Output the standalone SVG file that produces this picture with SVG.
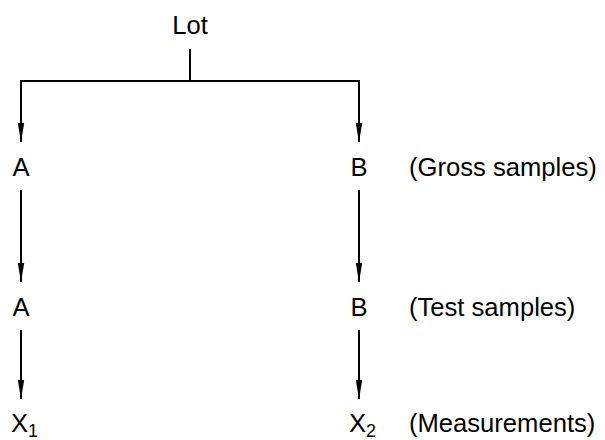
<svg xmlns="http://www.w3.org/2000/svg" width="605" height="440" viewBox="0 0 605 440">
<style>
text{font-family:"Liberation Sans",Arial,sans-serif;font-size:25.6px;fill:#000}
.c{text-anchor:middle}
.sub{font-size:18px}
.ln{stroke:#000;stroke-width:2;fill:none}
</style>
<defs>
<marker id="ah" markerUnits="userSpaceOnUse" markerWidth="20" markerHeight="8" refX="19" refY="3.5" orient="auto" viewBox="0 0 20 7">
<path d="M0,0.3 L19,3.5 L0,6.7 Z" fill="#000"/>
</marker>
</defs>
<rect width="605" height="440" fill="#fff"/>
<g id="connectors">
<path class="ln" d="M190,49 V81"/>
<path class="ln" d="M21,81 H359"/>
<path class="ln" d="M21,80 V142" marker-end="url(#ah)"/>
<path class="ln" d="M359,80 V142" marker-end="url(#ah)"/>
<path class="ln" d="M21,190 V282" marker-end="url(#ah)"/>
<path class="ln" d="M359,190 V282" marker-end="url(#ah)"/>
<path class="ln" d="M21,330 V399" marker-end="url(#ah)"/>
<path class="ln" d="M359,330 V399" marker-end="url(#ah)"/>
</g>
<g id="lot"><text class="c" x="190" y="34">Lot</text></g>
<g id="gross-a"><text class="c" x="21" y="176">A</text></g>
<g id="gross-b"><text class="c" x="359" y="176">B</text></g>
<g id="test-a"><text class="c" x="21" y="316">A</text></g>
<g id="test-b"><text class="c" x="359" y="316">B</text></g>
<g id="x1"><text x="11" y="432">X<tspan class="sub" dy="5">1</tspan></text></g>
<g id="x2"><text x="349" y="432">X<tspan class="sub" dy="5">2</tspan></text></g>
<g id="labels">
<text x="409" y="176">(Gross samples)</text>
<text x="409" y="316">(Test samples)</text>
<text x="409" y="432">(Measurements)</text>
</g>
</svg>
